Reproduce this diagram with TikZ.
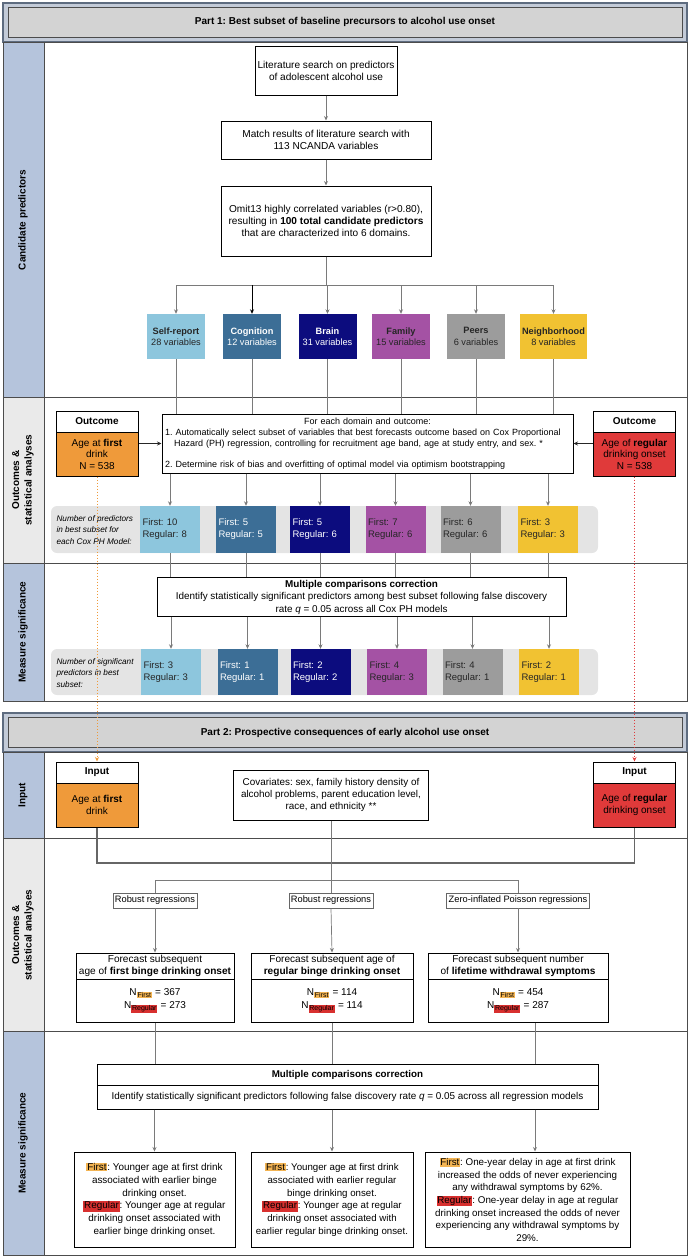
\documentclass[tikz,border=0pt]{standalone}
\usepackage{fontspec}
\setmainfont{Liberation Sans}
\usetikzlibrary{arrows.meta}
\frenchspacing

\definecolor{slateedge}{HTML}{5E6C80}
\definecolor{slateband}{HTML}{C3CBD8}
\definecolor{bargray}{HTML}{D3D3D3}
\definecolor{laneblue}{HTML}{B5C4DC}
\definecolor{lanegray}{HTML}{EAEAEA}
\definecolor{rowgray}{HTML}{E4E4E4}
\definecolor{conngray}{HTML}{7A7A7A}
\definecolor{selfblue}{HTML}{8DC6DD}
\definecolor{cogblue}{HTML}{3C6E96}
\definecolor{brainnavy}{HTML}{0C0C7E}
\definecolor{familypurple}{HTML}{A452A4}
\definecolor{peersgray}{HTML}{9C9C9C}
\definecolor{neighyellow}{HTML}{F1C232}
\definecolor{firstorange}{HTML}{EF9A3A}
\definecolor{regularred}{HTML}{E03A3A}
\definecolor{hlorange}{HTML}{F3B453}
\definecolor{hlred}{HTML}{D8302F}

\newcommand{\fsz}[2]{\fontsize{#1}{#2}\selectfont}
\newcommand{\hlfirst}[1]{{\setlength{\fboxsep}{0.8pt}\colorbox{hlorange}{#1}}}
\newcommand{\hlregular}[1]{{\setlength{\fboxsep}{0.8pt}\colorbox{hlred}{#1}}}

\tikzset{
  conn/.style={draw=conngray, line width=0.7pt},
  flowbox/.style={draw, line width=1pt, fill=white, align=center, inner sep=2pt, font=\fsz{10.1}{12}},
  headbox/.style={draw, line width=1pt, fill=white, inner sep=0pt, minimum width=82pt, minimum height=21pt, font=\bfseries\fsz{10}{12}},
  onsetbox/.style={draw, line width=1pt, align=center, inner sep=0pt, minimum width=82pt, minimum height=44pt, font=\fsz{10}{11.5}},
  dombox/.style={minimum width=58pt, minimum height=45pt, inner sep=1pt, align=center, font=\fsz{9.2}{11.5}},
  cntbox/.style={minimum height=47pt, text width=55pt, inner sep=2.5pt, align=left, font=\fsz{9.5}{12}},
  rowbg/.style={fill=rowgray, rounded corners=6pt, minimum width=547pt, inner sep=0pt},
  rowlabel/.style={anchor=west, align=left, font=\itshape\fsz{8.2}{11.2}},
  lanelabel/.style={rotate=90, align=center, font=\bfseries\fsz{10}{12.5}},
  partbar/.style={draw=black!70, fill=bargray, line width=1pt, minimum width=674pt, minimum height=30pt, font=\bfseries\fsz{10}{12}},
  regbox/.style={draw=black!60, line width=0.6pt, fill=white, minimum height=15pt, inner sep=2pt, font=\fsz{9.3}{10}},
  firstdot/.style={draw=firstorange, dotted, line width=1pt},
  regdot/.style={draw=regularred, dotted, line width=1pt},
  laneline/.style={draw=black!70, line width=0.9pt},
  dself/.style={fill=selfblue, text=black!85},
  dcog/.style={fill=cogblue, text=white},
  dbrain/.style={fill=brainnavy, text=white},
  dfam/.style={fill=familypurple, text=black!85},
  dpeer/.style={fill=peersgray, text=black!85},
  dneigh/.style={fill=neighyellow, text=black!85},
}

\begin{document}
\begin{tikzpicture}[x=1pt, y=-1pt, >={Stealth[length=4.5pt,width=4pt]}]
\useasboundingbox (0,0) rectangle (690,1258);

% Part 1 header and frame
\draw[draw=slateedge, fill=slateband, line width=1.2pt] (3,3) rectangle (687,42);
\node[partbar] (part1) at (345,22) {Part 1: Best subset of baseline precursors to alcohol use onset};
\fill[laneblue] (3,42) rectangle (44,397);
\fill[lanegray] (3,397) rectangle (44,563);
\fill[laneblue] (3,563) rectangle (44,701);
\draw[laneline] (3,42) rectangle (687,701);
\draw[laneline] (3,397) -- (687,397);
\draw[laneline] (3,563) -- (687,563);
\draw[laneline] (44,42) -- (44,701);
\node[lanelabel] (lab1a) at (23,220) {Candidate predictors};
\node[lanelabel] (lab1b) at (23,480) {Outcomes \&\\statistical analyses};
\node[lanelabel] (lab1c) at (23,632) {Measure significance};

% candidate predictors
\node[flowbox, minimum width=142pt, minimum height=49pt] (lit) at (326,70.5) {Literature search on predictors\\of adolescent alcohol use};
\node[flowbox, minimum width=210pt, minimum height=38pt] (match) at (326,140) {Match results of literature search with\\113 NCANDA variables};
\node[flowbox, minimum width=210pt, minimum height=70pt] (omit) at (326,221) {Omit13 highly correlated variables (r>0.80),\\resulting in \textbf{100 total candidate predictors}\\that are characterized into 6 domains.};
\path[draw,conn,->] (lit) -- (match);
\path[draw,conn,->] (match) -- (omit);

\node[dombox, dself] (self) at (176,336.5) {\textbf{Self-report}\\28 variables};
\node[dombox, dcog] (cog) at (252,336.5) {\textbf{Cognition}\\12 variables};
\node[dombox, dbrain] (brain) at (327.5,336.5) {\textbf{Brain}\\31 variables};
\node[dombox, dfam] (family) at (401,336.5) {\textbf{Family}\\15 variables};
\node[dombox, dpeer] (peers) at (476,336.5) {\textbf{Peers}\\6 variables};
\node[dombox, dneigh, minimum width=67pt] (neigh) at (553.5,336.5) {\textbf{Neighborhood}\\8 variables};

\coordinate (brP1) at (326,285);
\path[draw,conn] (omit.south) -- (brP1);
\path[draw,conn] (self.north |- brP1) -- (neigh.north |- brP1);
\path[draw,conn,->] (self.north |- brP1) -- (self.north);
\path[draw,conn,draw=black,->] (cog.north |- brP1) -- (cog.north);
\path[draw,conn,->] (brain.north |- brP1) -- (brain.north);
\path[draw,conn,->] (family.north |- brP1) -- (family.north);
\path[draw,conn,->] (peers.north |- brP1) -- (peers.north);
\path[draw,conn,->] (neigh.north |- brP1) -- (neigh.north);

% outcomes and statistical analyses
\node[flowbox, text width=405pt, inner sep=3pt, align=left, minimum height=59pt, font=\fsz{9}{11}] (steps) at (367.5,443.5) {{\centering For each domain and outcome:\par}\noindent 1. Automatically select subset of variables that best forecasts outcome based on Cox Proportional\\\hspace*{9pt}Hazard (PH) regression, controlling for recruitment age band, age at study entry, and sex. *\\[10pt]2. Determine risk of bias and overfitting of optimal model via optimism bootstrapping};
\path[draw,conn] (self.south) -- (self.south |- steps.north);
\path[draw,conn] (cog.south) -- (cog.south |- steps.north);
\path[draw,conn] (brain.south) -- (brain.south |- steps.north);
\path[draw,conn] (family.south) -- (family.south |- steps.north);
\path[draw,conn] (peers.south) -- (peers.south |- steps.north);
\path[draw,conn] (neigh.south) -- (neigh.south |- steps.north);

\node[headbox] (outLh) at (97,421.5) {Outcome};
\node[onsetbox, fill=firstorange] (outLb) at (97,454) {Age at \textbf{first}\\drink\\N = 538};
\node[headbox] (outRh) at (634.5,421.5) {Outcome};
\node[onsetbox, fill=regularred] (outRb) at (634.5,454) {Age of \textbf{regular}\\drinking onset\\N = 538};
\path[draw,conn,draw=black!85,->] (outLb.east |- steps.west) -- (steps.west);
\path[draw,conn,draw=black!85,->] (outRb.west |- steps.east) -- (steps.east);

\node[rowbg, minimum height=47pt] (cntrow) at (324.5,529.5) {};
\node[rowlabel] (cntlab) at (53,530) {Number of predictors\\in best subset for\\each Cox PH Model:};
\node[cntbox, dself] (c1) at (170,529.5) {First: 10\\Regular: 8};
\node[cntbox, dcog] (c2) at (246,529.5) {First: 5\\Regular: 5};
\node[cntbox, dbrain] (c3) at (320,529.5) {First: 5\\Regular: 6};
\node[cntbox, dfam] (c4) at (395.5,529.5) {First: 7\\Regular: 6};
\node[cntbox, dpeer] (c5) at (470.5,529.5) {First: 6\\Regular: 6};
\node[cntbox, dneigh] (c6) at (548,529.5) {First: 3\\Regular: 3};
\path[draw,conn,->] (c1.north |- steps.south) -- (c1.north);
\path[draw,conn,->] (c2.north |- steps.south) -- (c2.north);
\path[draw,conn,->] (c3.north |- steps.south) -- (c3.north);
\path[draw,conn,->] (c4.north |- steps.south) -- (c4.north);
\path[draw,conn,->] (c5.north |- steps.south) -- (c5.north);
\path[draw,conn,->] (c6.north |- steps.south) -- (c6.north);

% measure significance
\node[flowbox, minimum width=409pt, minimum height=38pt, font=\fsz{9.9}{12.5}] (mcc1) at (361.5,597) {\textbf{Multiple comparisons correction}\\Identify statistically significant predictors among best subset following false discovery\\rate \textit{q} = 0.05 across all Cox PH models};
\path[draw,conn] (c1.south) -- (c1.south |- mcc1.north);
\path[draw,conn] (c2.south) -- (c2.south |- mcc1.north);
\path[draw,conn] (c3.south) -- (c3.south |- mcc1.north);
\path[draw,conn] (c4.south) -- (c4.south |- mcc1.north);
\path[draw,conn] (c5.south) -- (c5.south |- mcc1.north);
\path[draw,conn] (c6.south) -- (c6.south |- mcc1.north);

\node[rowbg, minimum height=46pt] (sigrow) at (324.5,672) {};
\node[rowlabel] (siglab) at (53,673) {Number of significant\\predictors in best\\subset:};
\node[cntbox, minimum height=46pt, dself] (s1) at (171,672) {First: 3\\Regular: 3};
\node[cntbox, minimum height=46pt, dcog] (s2) at (247.5,672) {First: 1\\Regular: 1};
\node[cntbox, minimum height=46pt, dbrain] (s3) at (320.5,672) {First: 2\\Regular: 2};
\node[cntbox, minimum height=46pt, dfam] (s4) at (397,672) {First: 4\\Regular: 3};
\node[cntbox, minimum height=46pt, dpeer] (s5) at (472.5,672) {First: 4\\Regular: 1};
\node[cntbox, minimum height=46pt, dneigh] (s6) at (549,672) {First: 2\\Regular: 1};
\path[draw,conn,->] (s1.north |- mcc1.south) -- (s1.north);
\path[draw,conn,->] (s2.north |- mcc1.south) -- (s2.north);
\path[draw,conn,->] (s3.north |- mcc1.south) -- (s3.north);
\path[draw,conn,->] (s4.north |- mcc1.south) -- (s4.north);
\path[draw,conn,->] (s5.north |- mcc1.south) -- (s5.north);
\path[draw,conn,->] (s6.north |- mcc1.south) -- (s6.north);

% Part 2 header and frame
\draw[draw=slateedge, fill=slateband, line width=1.2pt] (3,713) rectangle (687,752);
\node[partbar] (part2) at (345,732.5) {Part 2: Prospective consequences of early alcohol use onset};
\fill[laneblue] (3,752) rectangle (44,838);
\fill[lanegray] (3,838) rectangle (44,1031);
\fill[laneblue] (3,1031) rectangle (44,1255);
\draw[laneline] (3,752) rectangle (687,1255);
\draw[laneline] (3,838) -- (687,838);
\draw[laneline] (3,1031) -- (687,1031);
\draw[laneline] (44,752) -- (44,1255);
\node[lanelabel] (lab2a) at (23,795) {Input};
\node[lanelabel] (lab2b) at (23,935) {Outcomes \&\\statistical analyses};
\node[lanelabel] (lab2c) at (23,1143) {Measure significance};

% input
\node[headbox] (inLh) at (97,772.5) {Input};
\node[onsetbox, fill=firstorange] (inLb) at (97,805) {Age at \textbf{first}\\drink};
\node[headbox] (inRh) at (634.5,772.5) {Input};
\node[onsetbox, fill=regularred] (inRb) at (634.5,805) {Age of \textbf{regular}\\drinking onset};
\node[flowbox, minimum width=195pt, minimum height=50pt, font=\fsz{9.9}{12}] (cov) at (331,795) {Covariates: sex, family history density of\\alcohol problems, parent education level,\\race, and ethnicity **};
\path[draw,firstdot,->] (outLb.south) -- (inLh.north);
\path[draw,regdot,->] (outRb.south) -- (inRh.north);

\coordinate (joinY) at (0,863);
\path[draw,conn,draw=black!60,line width=1.3pt] (inLb.south) -- (inLb.south |- joinY) -| (inRb.south);

% outcomes and statistical analyses
\node[regbox] (r1) at (155,900.5) {Robust regressions};
\node[regbox] (r2) at (331,900.5) {Robust regressions};
\node[regbox] (r3) at (518,900.5) {Zero-inflated Poisson regressions};
\coordinate (brP2) at (331,880);
\path[draw,conn] (cov.south) -- (brP2);
\path[draw,conn] (r1.north |- brP2) -- (r3.north |- brP2);
\path[draw,conn] (r1.north |- brP2) -- (r1.north);
\path[draw,conn] (brP2) -- (r2.north);
\path[draw,conn] (r3.north |- brP2) -- (r3.north);

\node[flowbox, minimum width=158pt, minimum height=26pt, inner sep=1pt, font=\fsz{10.1}{12.5}] (o1h) at (155,966) {Forecast subsequent\\age of \textbf{first binge drinking onset}};
\node[flowbox, minimum width=158pt, minimum height=43pt, font=\fsz{10}{13}] (o1n) at (155,1000.5) {N\textsubscript{\hlfirst{First}} = 367\\N\textsubscript{\hlregular{Regular}} = 273};
\node[flowbox, minimum width=162pt, minimum height=26pt, inner sep=1pt, font=\fsz{10.1}{12.5}] (o2h) at (332,966) {Forecast subsequent age of\\\textbf{regular binge drinking onset}};
\node[flowbox, minimum width=162pt, minimum height=43pt, font=\fsz{10}{13}] (o2n) at (332,1000.5) {N\textsubscript{\hlfirst{First}} = 114\\N\textsubscript{\hlregular{Regular}} = 114};
\node[flowbox, minimum width=180pt, minimum height=26pt, inner sep=1pt, font=\fsz{10.1}{12.5}] (o3h) at (518,966) {Forecast subsequent number\\of \textbf{lifetime withdrawal symptoms}};
\node[flowbox, minimum width=180pt, minimum height=43pt, font=\fsz{10}{13}] (o3n) at (518,1000.5) {N\textsubscript{\hlfirst{First}} = 454\\N\textsubscript{\hlregular{Regular}} = 287};
\path[draw,conn,->] (r1.south) -- (o1h.north);
\path[draw,conn,->] (r2.south) -- (o2h.north);
\path[draw,conn,->] (r3.south) -- (o3h.north);

% measure significance
\node[flowbox, minimum width=501pt, minimum height=21pt, font=\bfseries\fsz{9.8}{11}] (mcc2h) at (347.5,1074.5) {Multiple comparisons correction};
\node[flowbox, minimum width=501pt, minimum height=24pt, font=\fsz{9.9}{11}] (mcc2b) at (347.5,1097) {Identify statistically significant predictors following false discovery rate \textit{q} = 0.05 across all regression models};
\coordinate (col3) at (535,0);
\path[draw,conn] (o1n.south) -- (o1n.south |- mcc2h.north);
\path[draw,conn] (o2n.south) -- (o2n.south |- mcc2h.north);
\path[draw,conn] (o3n.south -| col3) -- (mcc2h.north -| col3);

\node[flowbox, minimum width=161pt, minimum height=95pt, font=\fsz{9.9}{12.8}] (res1) at (154.5,1199.5) {\hlfirst{First}: Younger age at first drink\\associated with earlier binge\\drinking onset.\\\hlregular{Regular}: Younger age at regular\\drinking onset associated with\\earlier binge drinking onset.};
\node[flowbox, minimum width=162pt, minimum height=95pt, font=\fsz{9.7}{12.8}] (res2) at (332,1199.5) {\hlfirst{First}: Younger age at first drink\\associated with earlier regular\\binge drinking onset.\\\hlregular{Regular}: Younger age at regular\\drinking onset associated with\\earlier regular binge drinking onset.};
\node[flowbox, minimum width=205pt, minimum height=95pt, font=\fsz{9.8}{12.6}] (res3) at (527.5,1199.5) {\hlfirst{First}: One-year delay in age at first drink\\increased the odds of never experiencing\\any withdrawal symptoms by 62\%.\\\hlregular{Regular}: One-year delay in age at regular\\drinking onset increased the odds of never\\experiencing any withdrawal symptoms by\\29\%.};
\path[draw,conn,->] (res1.north |- mcc2b.south) -- (res1.north);
\path[draw,conn,->] (res2.north |- mcc2b.south) -- (res2.north);
\path[draw,conn,->] (mcc2b.south -| col3) -- (res3.north -| col3);
\end{tikzpicture}
\end{document}
